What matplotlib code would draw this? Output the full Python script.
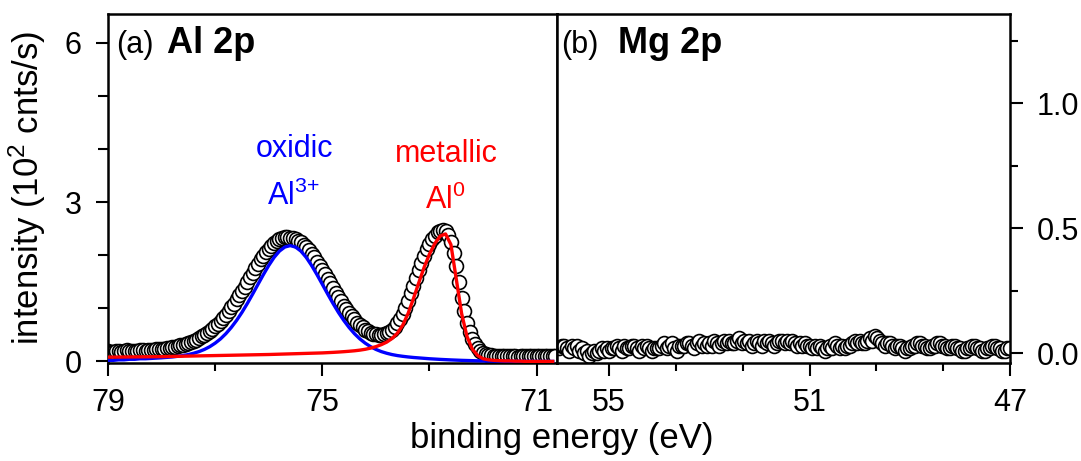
import numpy as np
import matplotlib
matplotlib.use('Agg')
import matplotlib.pyplot as plt
from matplotlib.ticker import AutoMinorLocator, FormatStrFormatter

plt.rcParams['font.family'] = ['Liberation Sans', 'DejaVu Sans']
plt.rcParams['mathtext.fontset'] = 'custom'
plt.rcParams['mathtext.rm'] = 'Liberation Sans'
plt.rcParams['mathtext.it'] = 'Liberation Sans:italic'
plt.rcParams['mathtext.bf'] = 'Liberation Sans:bold'

# Al 2p spectrum, 0.05 eV steps from 79.0 eV downwards (10^2 cnts/s)
al_start = 79.0
al_step = 0.05
al_counts = [
    0.19, 0.17, 0.18, 0.20, 0.19, 0.18, 0.20, 0.21, 0.19, 0.20,
    0.20, 0.19, 0.21, 0.22, 0.20, 0.21, 0.22, 0.21, 0.23, 0.24,
    0.24, 0.23, 0.25, 0.26, 0.27, 0.28, 0.29, 0.30, 0.31, 0.33,
    0.35, 0.37, 0.39, 0.41, 0.44, 0.47, 0.50, 0.53, 0.57, 0.61,
    0.66, 0.71, 0.76, 0.82, 0.88, 0.95, 1.02, 1.09, 1.17, 1.25,
    1.33, 1.41, 1.50, 1.59, 1.67, 1.76, 1.84, 1.92, 1.99, 2.06,
    2.12, 2.17, 2.22, 2.27, 2.30, 2.33, 2.34, 2.35, 2.33, 2.32,
    2.30, 2.27, 2.24, 2.20, 2.15, 2.09, 2.03, 1.96, 1.88, 1.80,
    1.72, 1.64, 1.55, 1.47, 1.38, 1.29, 1.21, 1.13, 1.05, 0.98,
    0.91, 0.85, 0.79, 0.73, 0.68, 0.64, 0.60, 0.57, 0.54, 0.52,
    0.51, 0.50, 0.50, 0.51, 0.53, 0.56, 0.60, 0.65, 0.72, 0.80,
    0.90, 1.01, 1.14, 1.28, 1.42, 1.57, 1.72, 1.86, 1.99, 2.11,
    2.21, 2.30, 2.37, 2.43, 2.46, 2.47, 2.45, 2.38, 2.25, 2.05,
    1.80, 1.50, 1.20, 0.94, 0.72, 0.55, 0.42, 0.32, 0.25, 0.20,
    0.16, 0.14, 0.12, 0.12, 0.11, 0.10, 0.10, 0.11, 0.10, 0.10,
    0.11, 0.10, 0.10, 0.09, 0.10, 0.11, 0.11, 0.10, 0.10, 0.11,
    0.11, 0.10, 0.10, 0.11, 0.11, 0.10, 0.10, 0.11,
]

# fitted components, 0.1 eV steps from 79.0 eV downwards
fit_start = 79.0
fit_step = 0.1
al_oxide_fit = [
    0.020, 0.020, 0.030, 0.030, 0.040, 0.040, 0.050, 0.050, 0.056, 0.062,
    0.068, 0.076, 0.084, 0.096, 0.110, 0.129, 0.154, 0.185, 0.226, 0.278,
    0.344, 0.424, 0.522, 0.638, 0.772, 0.923, 1.090, 1.268, 1.452, 1.634,
    1.806, 1.958, 2.077, 2.153, 2.180, 2.153, 2.077, 1.958, 1.806, 1.634,
    1.452, 1.268, 1.090, 0.923, 0.772, 0.638, 0.522, 0.424, 0.344, 0.278,
    0.226, 0.185, 0.154, 0.129, 0.110, 0.096, 0.084, 0.074, 0.066, 0.058,
    0.050, 0.044, 0.038, 0.033, 0.028, 0.024, 0.020, 0.017, 0.014, 0.011,
    0.009, 0.007, 0.006, 0.005, 0.004, 0.003, 0.002, 0.002, 0.001, 0.001,
    0.000, 0.000, 0.000, 0.000,
]
al_metal_fit = [
    0.080, 0.081, 0.082, 0.083, 0.084, 0.085, 0.086, 0.087, 0.088, 0.089,
    0.090, 0.092, 0.094, 0.096, 0.098, 0.100, 0.102, 0.104, 0.106, 0.108,
    0.110, 0.112, 0.114, 0.116, 0.118, 0.120, 0.122, 0.124, 0.126, 0.128,
    0.130, 0.133, 0.136, 0.139, 0.142, 0.145, 0.148, 0.151, 0.154, 0.157,
    0.160, 0.165, 0.170, 0.176, 0.183, 0.191, 0.200, 0.212, 0.228, 0.250,
    0.278, 0.315, 0.362, 0.430, 0.530, 0.680, 0.900, 1.180, 1.480, 1.770,
    2.020, 2.220, 2.360, 2.400, 2.200, 1.550, 0.900, 0.470, 0.230, 0.110,
    0.050, 0.030, 0.020, 0.015, 0.010, 0.010, 0.005, 0.005, 0.000, 0.000,
    0.000, 0.000, 0.000, 0.000,
]

# Mg 2p spectrum, 0.05 eV steps from 56.0 eV downwards
mg_start = 56.0
mg_step = 0.05
mg_counts = [
    0.02, 0.03, 0.03, 0.02, 0.01, 0.03, 0.02, 0.03, 0.01, 0.02,
    0.00, 0.01, -0.01, 0.00, 0.01, -0.00, 0.01, 0.02, 0.01, 0.02,
    0.01, 0.02, 0.02, 0.03, 0.02, 0.01, 0.03, 0.02, 0.02, 0.03,
    0.03, 0.02, 0.01, 0.03, 0.02, 0.03, 0.02, 0.01, 0.02, 0.02,
    0.02, 0.03, 0.04, 0.02, 0.03, 0.04, 0.02, 0.01, 0.03, 0.03,
    0.03, 0.04, 0.04, 0.03, 0.02, 0.04, 0.05, 0.03, 0.04, 0.03,
    0.04, 0.03, 0.05, 0.04, 0.03, 0.04, 0.05, 0.04, 0.05, 0.04,
    0.04, 0.05, 0.06, 0.04, 0.05, 0.04, 0.05, 0.03, 0.04, 0.05,
    0.04, 0.03, 0.05, 0.04, 0.05, 0.04, 0.03, 0.04, 0.05, 0.05,
    0.04, 0.05, 0.04, 0.05, 0.04, 0.03, 0.04, 0.03, 0.04, 0.03,
    0.03, 0.02, 0.03, 0.02, 0.03, 0.02, 0.01, 0.02, 0.03, 0.02,
    0.04, 0.03, 0.02, 0.03, 0.02, 0.03, 0.03, 0.04, 0.05, 0.04,
    0.05, 0.04, 0.04, 0.05, 0.06, 0.05, 0.07, 0.06, 0.05, 0.04,
    0.03, 0.04, 0.04, 0.03, 0.02, 0.03, 0.03, 0.02, 0.01, 0.02,
    0.02, 0.03, 0.03, 0.04, 0.04, 0.03, 0.03, 0.02, 0.02, 0.03,
    0.03, 0.04, 0.04, 0.03, 0.03, 0.02, 0.02, 0.03, 0.03, 0.02,
    0.02, 0.01, 0.01, 0.02, 0.02, 0.03, 0.03, 0.02, 0.02, 0.01,
    0.01, 0.02, 0.02, 0.03, 0.03, 0.02, 0.02, 0.01, 0.01, 0.02,
    0.02,
]

al_e = al_start - al_step * np.arange(len(al_counts))
fit_e = fit_start - fit_step * np.arange(len(al_oxide_fit))
mg_e = mg_start - mg_step * np.arange(len(mg_counts))

FS = 22
W, H = 1081, 461
fig = plt.figure(figsize=(W / 100, H / 100), dpi=100)
ax1 = fig.add_axes([108 / W, 1 - 363 / H, 449 / W, 349 / H])
ax2 = fig.add_axes([557 / W, 1 - 363 / H, 453 / W, 349 / H])

mk = dict(ls='none', marker='o', ms=10, mfc='white', mec='black', mew=1.2, zorder=2)

ax1.plot(al_e, al_counts, **mk)
ax1.plot(fit_e, al_oxide_fit, color='#0000ff', lw=2.4, zorder=3)
ax1.plot(fit_e, al_metal_fit, color='#ff0000', lw=2.4, zorder=3)
ax2.plot(mg_e, mg_counts, **mk)

ax1.set_xlim(79.0, 70.62)
ax1.set_ylim(-0.03, 6.54)
ax2.set_xlim(56.04, 47.0)
ax2.set_ylim(-0.04, 1.356)

ax1.set_xticks([79, 75, 71])
ax1.xaxis.set_minor_locator(AutoMinorLocator(2))
ax1.set_yticks([0, 3, 6])
ax1.yaxis.set_minor_locator(AutoMinorLocator(3))
ax2.set_xticks([55, 51, 47])
ax2.xaxis.set_minor_locator(AutoMinorLocator(3))
ax2.set_yticks([0.0, 0.5, 1.0])
ax2.yaxis.set_minor_locator(AutoMinorLocator(2))
ax2.yaxis.set_major_formatter(FormatStrFormatter('%.1f'))
ax2.yaxis.tick_right()

for ax in (ax1, ax2):
    for sp in ax.spines.values():
        sp.set_linewidth(1.8)
    ax.tick_params(which='both', direction='out', width=1.5, labelsize=FS)
    ax.tick_params(which='major', length=9)
    ax.tick_params(which='minor', length=5.5)
    ax.tick_params(top=False, which='both')
    ax.tick_params(axis='x', which='major', pad=9)
ax1.tick_params(right=False, which='both')
ax1.tick_params(axis='y', which='major', pad=10)
ax1.tick_params(axis='y', which='minor', length=7.5)
ax2.tick_params(left=False, which='both')
ax2.tick_params(axis='y', which='major', pad=10)

ax1.text(0.018, 0.888, '(a)', transform=ax1.transAxes, fontsize=FS, va='baseline')
ax1.text(0.131, 0.888, 'Al 2p', transform=ax1.transAxes, fontsize=26,
         fontweight='bold', va='baseline')
ax2.text(0.009, 0.888, '(b)', transform=ax2.transAxes, fontsize=FS, va='baseline')
ax2.text(0.135, 0.888, 'Mg 2p', transform=ax2.transAxes, fontsize=26,
         fontweight='bold', va='baseline')

ax1.text(75.51, 3.85, 'oxidic', color='#0000ff', fontsize=FS, ha='center', va='baseline')
ax1.text(75.53, 2.94, r'Al$^{3\!+}$', color='#0000ff', fontsize=FS, ha='center', va='baseline')
ax1.text(72.68, 3.75, 'metallic', color='#ff0000', fontsize=FS, ha='center', va='baseline')
ax1.text(72.70, 2.86, r'Al$^{0}$', color='#ff0000', fontsize=FS, ha='center', va='baseline')

fig.text(27 / W, 1 - 188 / H, r'intensity (10$^{2}$ cnts/s)', rotation=90,
         fontsize=25, ha='center', va='center')
fig.text(562 / W, 1 - 448 / H, 'binding energy (eV)', fontsize=25,
         ha='center', va='baseline')

fig.savefig('out.png', dpi=100)
